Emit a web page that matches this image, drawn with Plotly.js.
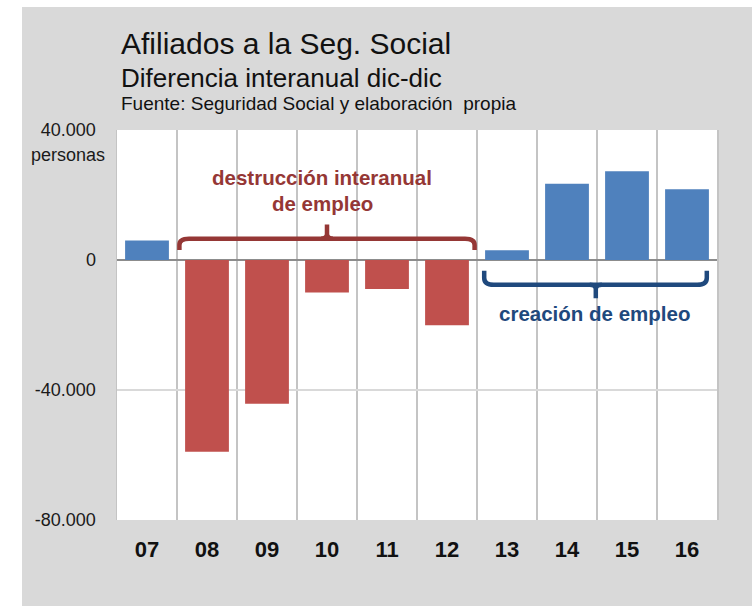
<!DOCTYPE html>
<html>
<head>
<meta charset="utf-8">
<script src="https://cdn.plot.ly/plotly-3.0.1.min.js"></script>
<style>
  html, body { margin: 0; padding: 0; background: #ffffff; }
  #chart { width: 752px; height: 606px; }
</style>
</head>
<body>
<div id="chart"></div>
<script>
// ---- data ----
const years = ['07', '08', '09', '10', '11', '12', '13', '14', '15', '16'];
const afiliados = [6000, -59000, -44200, -10000, -8900, -20100, 3000, 23500, 27300, 21800];
const yTickVals = [40000, 0, -40000, -80000];
const yTickText = ['40.000', '0', '-40.000', '-80.000'];
const titleText = 'Afiliados a la Seg. Social';
const subtitleText = 'Diferencia interanual dic-dic';
const sourceText = 'Fuente: Seguridad Social y elaboración  propia';
const unitText = 'personas';
const destruccionText = ['destrucción interanual', 'de empleo'];
const creacionText = 'creación de empleo';

const BLUE = '#4F81BD', RED = '#C0504D';
const DRED = '#953735', DBLUE = '#1F497D';
const FONT = 'Liberation Sans, Arial, sans-serif';

const barColors = afiliados.map(v => v >= 0 ? BLUE : RED);

const trace = {
  type: 'bar',
  x: years,
  y: afiliados,
  width: 0.73,
  marker: { color: barColors, line: { width: 0 } },
  hoverinfo: 'x+y'
};

// plot area: x 117..717, y 130..520
const W = 752, H = 606;
const L = 117, R = 35, T = 130, B = 86;
const pw = W - L - R, ph = H - T - B;
const px = x => (x - L) / pw;
const py = y => (H - B - y) / ph;

const layout = {
  width: W, height: H,
  margin: { l: L, r: R, t: T, b: B, pad: 0 },
  paper_bgcolor: '#d9d9d9',
  plot_bgcolor: '#ffffff',
  showlegend: false,
  bargap: 0.27,
  font: { family: FONT, color: '#1a1a1a' },
  xaxis: {
    type: 'category',
    tickson: 'boundaries',
    showgrid: true,
    gridcolor: '#c4c4c4',
    gridwidth: 1.5,
    ticks: '',
    showline: false,
    zeroline: false,
    tickfont: { family: FONT, size: 22, color: '#111111', weight: 'bold' },
    ticklabelstandoff: 14,
    fixedrange: true
  },
  yaxis: {
    range: [-80000, 40000],
    tickvals: yTickVals,
    ticktext: yTickText,
    showgrid: true,
    gridcolor: '#d9d9d9',
    gridwidth: 1.5,
    zeroline: true,
    zerolinecolor: '#8c8c8c',
    zerolinewidth: 2,
    showline: true,
    linecolor: '#c4c4c4',
    linewidth: 1.5,
    mirror: true,
    ticks: '',
    tickfont: { family: FONT, size: 18, color: '#1a1a1a' },
    ticklabelstandoff: 16,
    fixedrange: true
  },
  shapes: [
    // white margins outside the grey panel
    { type: 'rect', xref: 'paper', yref: 'paper', x0: px(0), x1: px(22), y0: py(H), y1: py(0),
      fillcolor: '#ffffff', line: { width: 0 }, layer: 'below' },
    { type: 'rect', xref: 'paper', yref: 'paper', x0: px(0), x1: px(W), y0: py(7), y1: py(0),
      fillcolor: '#ffffff', line: { width: 0 }, layer: 'below' },
    // red bracket "destrucción"
    { type: 'path', xref: 'x', yref: 'y', layer: 'above',
      path: 'M 0.54,3100 L 0.54,4600 Q 0.54,6550 0.7,6550 L 5.3,6550 Q 5.46,6550 5.46,4600 L 5.46,3100',
      line: { color: DRED, width: 4.5 } },
    { type: 'path', xref: 'x', yref: 'y', layer: 'above',
      path: 'M 2.9,6550 Q 3.0,6550 3.0,8000 L 3.0,10900 M 3.1,6550 Q 3.0,6550 3.0,8000',
      line: { color: DRED, width: 4.5 } },
    // blue bracket "creación"
    { type: 'path', xref: 'x', yref: 'y', layer: 'above',
      path: 'M 5.62,-3300 L 5.62,-5500 Q 5.62,-7600 5.78,-7600 L 9.17,-7600 Q 9.33,-7600 9.33,-5500 L 9.33,-3300',
      line: { color: DBLUE, width: 4.5 } },
    { type: 'path', xref: 'x', yref: 'y', layer: 'above',
      path: 'M 7.38,-7600 Q 7.48,-7600 7.48,-9000 L 7.48,-11800 M 7.58,-7600 Q 7.48,-7600 7.48,-9000',
      line: { color: DBLUE, width: 4.5 } }
  ],
  annotations: [
    { xref: 'paper', yref: 'paper', x: px(119), y: py(43.5), xanchor: 'left', yanchor: 'middle',
      text: titleText, showarrow: false, font: { family: FONT, size: 30, color: '#111111' } },
    { xref: 'paper', yref: 'paper', x: px(119), y: py(78), xanchor: 'left', yanchor: 'middle',
      text: subtitleText, showarrow: false, font: { family: FONT, size: 26, color: '#111111' } },
    { xref: 'paper', yref: 'paper', x: px(119), y: py(103.7), xanchor: 'left', yanchor: 'middle',
      text: sourceText, showarrow: false, font: { family: FONT, size: 19, color: '#111111' } },
    { xref: 'paper', yref: 'paper', x: px(107), y: py(154.5), xanchor: 'right', yanchor: 'middle',
      text: unitText, showarrow: false, font: { family: FONT, size: 18, color: '#1a1a1a' } },
    { xref: 'paper', yref: 'paper', x: px(322), y: py(177.5), xanchor: 'center', yanchor: 'middle',
      text: destruccionText[0], showarrow: false, font: { family: FONT, size: 20.5, color: DRED, weight: 'bold' } },
    { xref: 'paper', yref: 'paper', x: px(322), y: py(203.5), xanchor: 'center', yanchor: 'middle',
      text: destruccionText[1], showarrow: false, font: { family: FONT, size: 20.5, color: DRED, weight: 'bold' } },
    { xref: 'paper', yref: 'paper', x: px(594), y: py(313.5), xanchor: 'center', yanchor: 'middle',
      text: creacionText, showarrow: false, font: { family: FONT, size: 20.5, color: DBLUE, weight: 'bold' } }
  ]
};

Plotly.newPlot('chart', [trace], layout, { displayModeBar: false, staticPlot: true });
</script>
</body>
</html>
